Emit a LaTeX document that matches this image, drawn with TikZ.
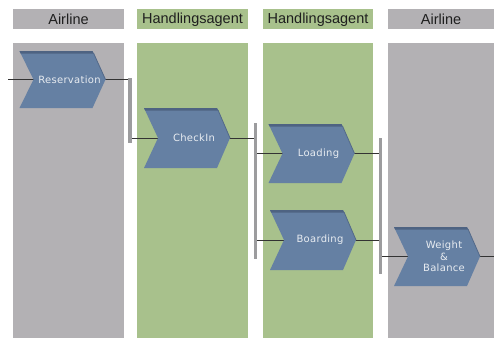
\documentclass[tikz,border=0pt]{standalone}
\usepackage{fontspec}
\setmainfont{Liberation Sans}
\newfontfamily\chevfont[LetterSpace=3]{DejaVu Sans}
\definecolor{lanegray}{HTML}{B3B1B4}
\definecolor{lanegreen}{HTML}{A8C18C}
\definecolor{chevblue}{HTML}{6580A3}
\definecolor{chevdark}{HTML}{4E6382}
\definecolor{chevtxt}{HTML}{E8ECF1}
\definecolor{barcol}{HTML}{9C9C9E}
\definecolor{wirecol}{HTML}{333333}
\pgfdeclarelayer{lanes}
\pgfdeclarelayer{wires}
\pgfsetlayers{lanes,wires,main}
\tikzset{
  header/.style={font=\fontsize{14.5}{16}\selectfont, text=black!88, inner sep=0},
  chevtext/.style={font=\chevfont\fontsize{10}{11.5}\selectfont, text=chevtxt, align=center, inner sep=0},
  bar/.style={rectangle, fill=barcol, minimum width=3.5pt, inner sep=0},
  wire/.style={draw=wirecol, line width=1pt}
}
\newcommand\chevshape[5]{%
  \begin{scope}[shift={(#2,#3)}]
    \fill[chevblue] (-43,-#4) -- (30,-#4) -- (43,0) -- (30,#4) -- (-43,#4) -- (-29,0) -- cycle;
    \fill[chevdark] (-43,-#4) -- (30,-#4) -- (31.2,-#4+2.5) -- (-41.8,-#4+2.5) -- cycle;
    \draw[chevdark!80!chevblue, line width=0.8pt] (31,-#4+2) -- (43,0);
    \node[chevtext] (#1) at (7,0) {#5};
  \end{scope}}
\begin{document}
\begin{tikzpicture}[x=1pt, y=-1pt]
\useasboundingbox (0,0) rectangle (494,338);
\begin{pgfonlayer}{lanes}
  \fill[white] (0,0) rectangle (494,338);
  \fill[lanegray]  (13,9)  rectangle (124,29);
  \fill[lanegreen] (137,9) rectangle (248,29);
  \fill[lanegreen] (263,9) rectangle (373,29);
  \fill[lanegray]  (388,9) rectangle (494,29);
  \fill[lanegray]  (13,43)  rectangle (124,338);
  \fill[lanegreen] (137,43) rectangle (248,338);
  \fill[lanegreen] (263,43) rectangle (373,338);
  \fill[lanegray]  (388,43) rectangle (494,338);
\end{pgfonlayer}
\node[header] (h1) at (68.5,19.5) {Airline};
\node[header] (h2) at (192.5,19.5) {Handlingsagent};
\node[header] (h3) at (318,19.5) {Handlingsagent};
\node[header] (h4) at (441,19.5) {Airline};

\chevshape{res}{62.5}{79.5}{28.5}{Reservation}
\chevshape{chk}{187}{138}{30}{CheckIn}
\chevshape{load}{311.5}{153.5}{29.5}{Loading}
\chevshape{board}{313}{240}{30}{Boarding}
\chevshape{wb}{437}{256.5}{29.5}{Weight\\\&\\Balance}

\node[bar, minimum height=65pt] (bar1) at (129.75,110.5) {};
\node[bar, minimum height=136pt] (bar2) at (255.25,191) {};
\node[bar, minimum height=136pt] (bar3) at (380.25,206) {};

\coordinate (start) at (8,79.5);
\coordinate (finish) at (494,256.5);

\begin{pgfonlayer}{wires}
  \draw[wire] (start) -- (res);
  \draw[wire] (res) -- (res -| bar1);
  \draw[wire] (bar1 |- chk) -- (chk);
  \draw[wire] (chk) -- (chk -| bar2);
  \draw[wire] (bar2 |- load) -- (load);
  \draw[wire] (bar2 |- board) -- (board);
  \draw[wire] (load) -- (load -| bar3);
  \draw[wire] (board) -- (board -| bar3);
  \draw[wire] (bar3 |- wb) -- (wb);
  \draw[wire] (wb) -- (finish);
\end{pgfonlayer}
\end{tikzpicture}
\end{document}
